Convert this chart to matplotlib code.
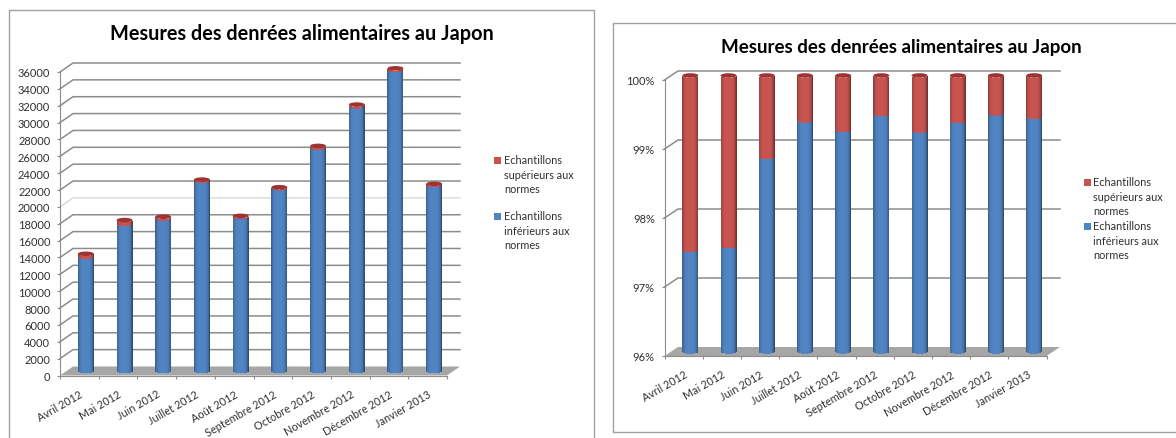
import numpy as np
import matplotlib
matplotlib.use("Agg")
import matplotlib.pyplot as plt
from matplotlib.patches import Ellipse, Polygon, Rectangle

plt.rcParams['font.family'] = ['Lato', 'DejaVu Sans']

W, H = 1176, 439

months = ["Avril 2012", "Mai 2012", "Juin 2012", "Juillet 2012", "Août 2012",
          "Septembre 2012", "Octobre 2012", "Novembre 2012", "Décembre 2012", "Janvier 2013"]
total_samples = [13900, 17900, 18300, 22700, 18400, 21800, 26700, 31600, 35900, 22200]
share_below = [97.47, 97.53, 98.82, 99.35, 99.21, 99.44, 99.20, 99.34, 99.45, 99.40]
share_above = [100 - s for s in share_below]
samples_below = [t * s / 100 for t, s in zip(total_samples, share_below)]
samples_above = [t - b for t, b in zip(total_samples, samples_below)]

title = "Mesures des denrées alimentaires au Japon"
legend_above = ["Echantillons", "supérieurs aux", "normes"]
legend_below = ["Echantillons", "inférieurs aux", "normes"]

BLUE = np.array([0x50, 0x84, 0xc2]) / 255
RED = np.array([0xc8, 0x54, 0x50]) / 255
RED_TOP = "#9e3432"
GRID = "#8c8c8c"
FLOOR = "#a6a6a6"
TEXT = "#303030"


def shade(color, u):
    # cylinder look: darker towards both edges, more on the right
    k = abs(u) ** 4 * (0.5 if u > 0 else 0.3)
    return color * (1 - k)


def draw_bars(ax, x, bottoms, heights, color, hw, ry):
    for u in np.linspace(-1, 1, 25)[:-1] + 1 / 24:
        arc = ry * np.sqrt(1 - u ** 2)
        ax.bar(x + u * hw, heights, width=hw / 12, bottom=np.array(bottoms) - arc,
               color=shade(color, u), linewidth=0, antialiased=False, zorder=3, clip_on=False)


def panel(box, ticks, depth, lower, upper, fmt, fade=()):
    # box = left, right, top, bottom of the front plane in pixels
    l, r, t, b = box
    ax = fig.add_axes([l / W, 1 - b / H, (r - l) / W, (b - t) / H])
    ax.set_xlim(0, 10)
    ax.set_ylim(ticks[0], ticks[-1])
    ax.patch.set_alpha(0)
    sx = 10 / (r - l)
    sy = (ticks[-1] - ticks[0]) / (b - t)
    dx, dy = depth[0] * sx, depth[1] * sy

    # back wall lines and floor
    for v in ticks[1:]:
        ax.plot([0, dx, 10 + dx], [v, v + dy, v + dy], color="#dcdcdc" if v in fade else GRID,
                lw=1.1, clip_on=False, zorder=1)
    ax.add_patch(Polygon([(0, ticks[0]), (10, ticks[0]), (10 + dx, ticks[0] + dy), (dx, ticks[0] + dy)],
                         facecolor=FLOOR, edgecolor="none", clip_on=False, zorder=2))

    # bars stand halfway into the depth
    x = np.arange(10) + 0.5 + dx / 2
    base = ticks[0] + dy / 2
    hw, ry = 8 * sx, 2.3 * sy
    below = np.array(lower)
    above = np.array(upper)
    draw_bars(ax, x, np.full(10, base), below, BLUE, hw, ry)
    draw_bars(ax, x, base + below, above, RED, hw, ry)
    for xi, top in zip(x, base + below + above):
        ax.add_patch(Ellipse((xi, top), 2 * hw, 2 * ry, facecolor=RED_TOP, edgecolor="none",
                             clip_on=False, zorder=4))

    for name in ("top", "right"):
        ax.spines[name].set_visible(False)
    for name in ("left", "bottom"):
        ax.spines[name].set_color(GRID)
    ax.set_yticks(ticks)
    ax.set_yticklabels([fmt % v for v in ticks], fontsize=8, color=TEXT)
    ax.set_xticks(range(11))
    ax.set_xticklabels([])
    ax.set_xticks(np.arange(10) + 0.5, months, minor=True, rotation=30, ha="right",
                  rotation_mode="anchor", fontsize=7.8, color=TEXT)
    ax.tick_params(axis="y", length=2.5, color=GRID, pad=4.5)
    ax.tick_params(axis="x", which="major", length=2.5, color=GRID)
    ax.tick_params(axis="x", which="minor", length=0, pad=9)
    return ax


def legend(px, py_above, py_below, text_gap):
    for lines, y0, color in ((legend_above, py_above, RED), (legend_below, py_below, BLUE)):
        bg.add_patch(Rectangle((px, y0 - 3.5), 7, 7, facecolor=color, edgecolor="none"))
        for k, line in enumerate(lines):
            bg.text(px + text_gap, y0 + k * 14.2, line, fontsize=7.8, color=TEXT, va="center", ha="left")


fig = plt.figure(figsize=(W / 100, H / 100), dpi=100, facecolor="white")

# page layer in pixel units for frames, titles and legends
bg = fig.add_axes([0, 0, 1, 1])
bg.set_xlim(0, W)
bg.set_ylim(H, 0)
bg.axis("off")

bg.plot([8.7, 8.7, 594.3, 594.3], [439, 10.7, 10.7, 439], color="#a0a0a0", lw=1)
bg.plot([1176, 612.7, 612.7, 1176], [24.3, 24.3, 433, 433], color="#a0a0a0", lw=1)

bg.text(301.5, 34.5, title, fontsize=14.3, fontweight="bold", color="black", ha="center", va="center")
bg.text(901, 47.5, title, fontsize=13.5, fontweight="bold", color="black", ha="center", va="center")

panel((60, 447, 73, 376.5), list(range(0, 36001, 2000)), (13, 9),
      samples_below, samples_above, "%d", fade=(20000,))
panel((664.5, 1046.5, 81, 357), [96, 97, 98, 99, 100], (13.5, 9),
      [s - 96 for s in share_below], share_above, "%d%%")

legend(494, 161, 217, 10)
legend(1084, 183, 227, 9)

fig.savefig("out.png", dpi=100)
